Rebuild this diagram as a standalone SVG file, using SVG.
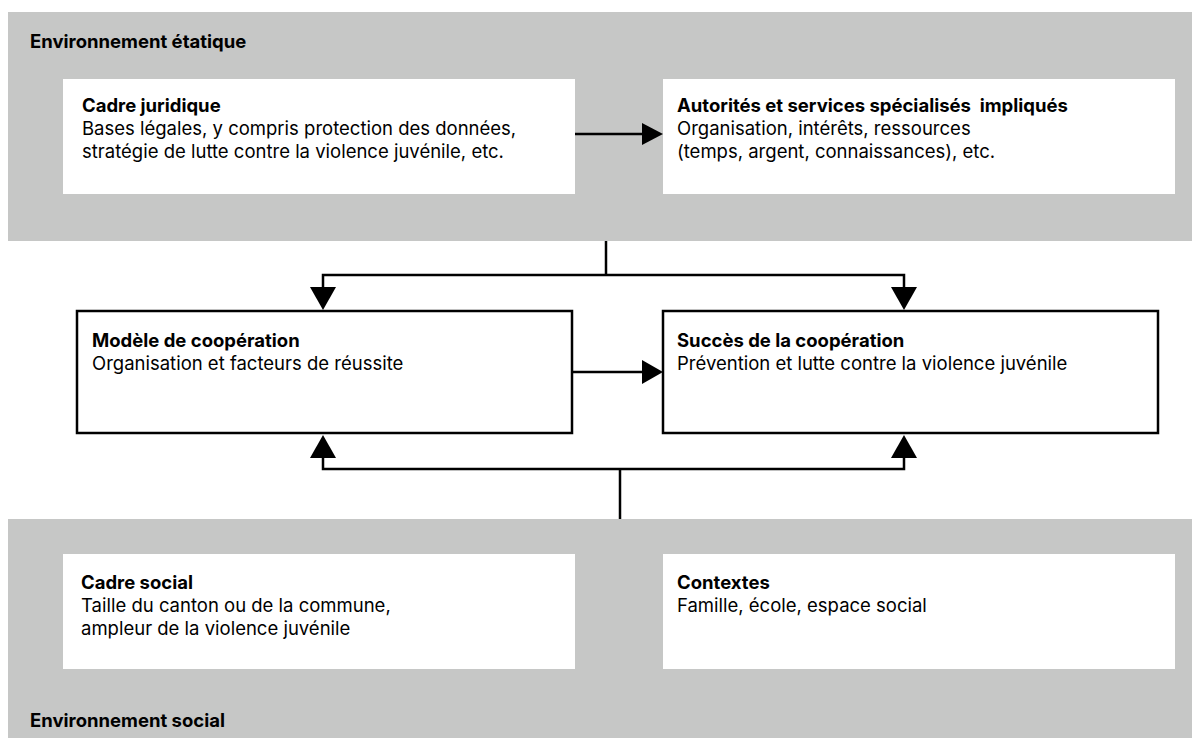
<svg xmlns="http://www.w3.org/2000/svg" width="1192" height="738" viewBox="0 0 1192 738">
<defs>
<style>
.env{fill:#c6c7c6}
.wbox{fill:#ffffff}
.bbox{fill:#ffffff;stroke:#000;stroke-width:2.5}
.t{font-family:Inter,"Liberation Sans",sans-serif;font-size:18.5px;fill:#000}
.b{font-weight:bold}
.ln{fill:none;stroke:#000;stroke-width:2.5}
.ah{fill:#000}
</style>
</defs>
<rect width="1192" height="738" fill="#ffffff"/>
<g id="env-etatique">
<rect class="env" x="8" y="12" width="1184" height="229"/>
<text class="t b" x="30" y="48">Environnement étatique</text>
</g>
<g id="env-social">
<rect class="env" x="8" y="519" width="1184" height="219"/>
<text class="t b" x="30" y="727">Environnement social</text>
</g>
<g id="cadre-juridique">
<rect class="wbox" x="63" y="79" width="512" height="115"/>
<text class="t b" x="82" y="112">Cadre juridique</text>
<text class="t" x="82" y="135">Bases légales, y compris protection des données,</text>
<text class="t" x="82" y="158">stratégie de lutte contre la violence juvénile, etc.</text>
</g>
<g id="autorites">
<rect class="wbox" x="663" y="79" width="512" height="115"/>
<text class="t b" x="677" y="112" xml:space="preserve">Autorités et services spécialisés  impliqués</text>
<text class="t" x="677" y="135">Organisation, intérêts, ressources</text>
<text class="t" x="677" y="158">(temps, argent, connaissances), etc.</text>
</g>
<g id="modele">
<rect class="bbox" x="77" y="311" width="495" height="122"/>
<text class="t b" x="92" y="347">Modèle de coopération</text>
<text class="t" x="92" y="370">Organisation et facteurs de réussite</text>
</g>
<g id="succes">
<rect class="bbox" x="663" y="311" width="495" height="122"/>
<text class="t b" x="677" y="347">Succès de la coopération</text>
<text class="t" x="677" y="370">Prévention et lutte contre la violence juvénile</text>
</g>
<g id="cadre-social">
<rect class="wbox" x="63" y="554" width="512" height="115"/>
<text class="t b" x="81" y="589">Cadre social</text>
<text class="t" x="81" y="612">Taille du canton ou de la commune,</text>
<text class="t" x="81" y="635">ampleur de la violence juvénile</text>
</g>
<g id="contextes">
<rect class="wbox" x="663" y="554" width="512" height="115"/>
<text class="t b" x="677" y="589">Contextes</text>
<text class="t" x="677" y="612">Famille, école, espace social</text>
</g>
<g id="connectors">
<line class="ln" x1="575" y1="134" x2="644" y2="134"/>
<polygon class="ah" points="642,123 663,134 642,145"/>
<polyline class="ln" points="606,241 606,275"/>
<polyline class="ln" points="323,289 323,275 904,275 904,289"/>
<polygon class="ah" points="310,287 336,287 323,310"/>
<polygon class="ah" points="891,287 917,287 904,310"/>
<line class="ln" x1="572" y1="372" x2="644" y2="372"/>
<polygon class="ah" points="642,360 663,372 642,384"/>
<polyline class="ln" points="323,456 323,469 904,469 904,456"/>
<polygon class="ah" points="310,458 336,458 323,435"/>
<polygon class="ah" points="891,458 917,458 904,435"/>
<polyline class="ln" points="620,469 620,519"/>
</g>
</svg>
